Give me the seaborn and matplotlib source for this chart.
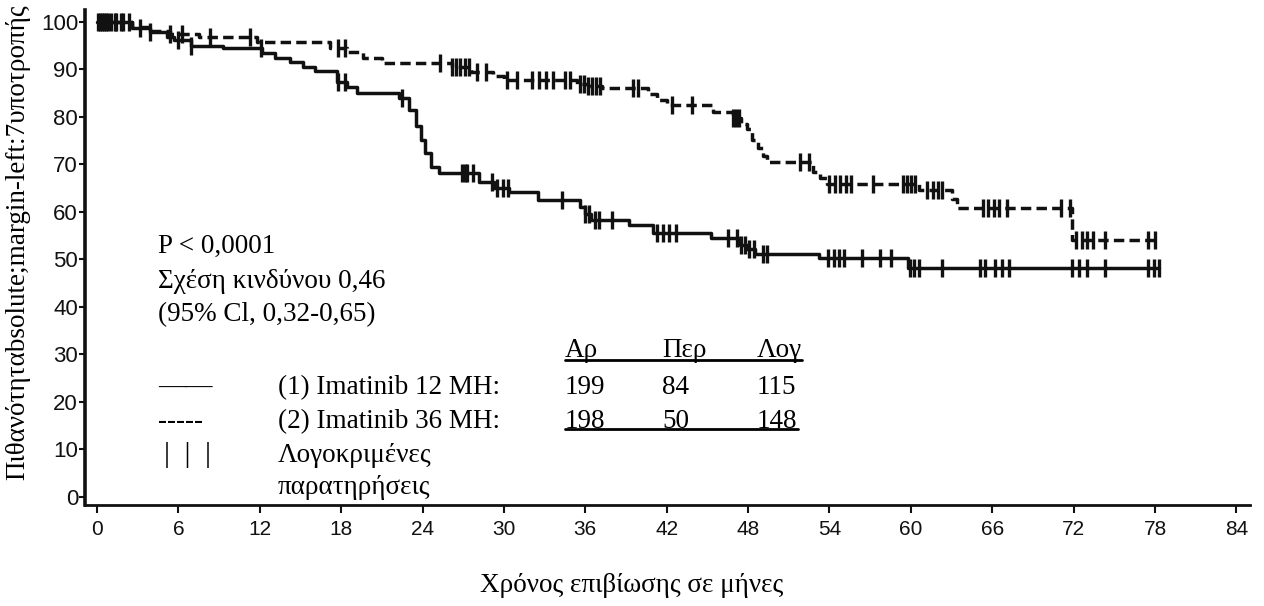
import numpy as np
import matplotlib
matplotlib.use("Agg")
import matplotlib.pyplot as plt
import seaborn as sns

# Group 1: Imatinib 12 months (solid) - step times and survival (%)
time_12 = [0, 2.6, 3.9, 5.2, 5.7, 6.9, 9.3, 12.2, 13.1, 14.2, 15.2, 16.1, 17.7, 18.4,
           19.2, 22.3, 23.0, 23.5, 23.9, 24.2, 24.6, 25.2, 28.2, 29.3, 30.4, 32.5,
           35.6, 36.0, 36.4, 39.2, 41.0, 45.3, 47.4, 47.9, 48.5, 53.2, 59.8, 78.3]
surv_12 = [100, 98.7, 97.9, 96.8, 96.2, 95.0, 94.5, 93.5, 92.4, 91.6, 90.5, 89.6, 87.4, 86.3,
           85.0, 84.0, 81.5, 78.0, 75.2, 72.4, 69.5, 68.1, 66.2, 65.0, 64.2, 62.5,
           61.0, 59.5, 58.2, 57.2, 55.6, 54.5, 53.0, 52.2, 51.2, 50.4, 48.2, 48.2]
cens_12 = [0.2, 0.5, 0.8, 1.3, 1.9, 3.2, 3.9, 6.0, 6.9, 12.1, 17.8, 18.3, 22.5,
           26.9, 27.1, 27.3, 27.7, 29.1, 29.5, 29.9, 30.3, 34.3, 36.0, 36.3, 36.7, 37.0,
           38.0, 41.3, 41.7, 42.2, 42.7, 46.5, 47.2, 47.5, 47.8, 48.1, 48.4, 49.1, 49.4,
           53.9, 54.3, 54.7, 55.1, 56.4, 57.7, 58.5, 59.9, 60.2, 60.6, 62.3, 65.1, 65.5,
           66.2, 66.7, 67.2, 71.9, 72.4, 73.0, 74.3, 77.5, 77.9, 78.3]

# Group 2: Imatinib 36 months (dashed)
time_36 = [0, 2.6, 3.9, 5.4, 7.5, 11.8, 17.2, 18.4, 19.6, 21.0, 26.2, 27.6, 29.2, 30.0,
           35.4, 36.2, 37.2, 40.6, 41.3, 42.0, 45.4, 46.9, 47.5, 47.9, 48.3, 48.7, 49.1,
           49.4, 52.8, 53.3, 53.8, 60.6, 63.0, 63.4, 71.9, 78.0]
surv_36 = [100, 98.9, 98.0, 97.4, 96.8, 95.8, 94.5, 93.6, 92.3, 91.4, 90.4, 89.4, 88.6, 87.8,
           87.0, 86.6, 86.1, 84.8, 83.6, 82.6, 81.0, 79.8, 78.6, 77.4, 75.2, 73.5, 71.8,
           70.5, 68.5, 67.2, 65.8, 64.6, 62.8, 60.8, 54.0, 54.0]
cens_36 = [0.1, 0.4, 0.7, 1.0, 1.4, 1.8, 2.4, 5.4, 6.3, 8.3, 11.3, 17.8, 18.3, 25.3, 26.2,
           26.5, 26.8, 27.1, 27.4, 28.0, 28.7, 30.2, 31.0, 32.1, 32.6, 33.1, 33.6, 34.5,
           34.9, 35.6, 35.9, 36.2, 36.5, 36.8, 37.1, 39.5, 39.9, 42.4, 43.9, 46.9, 47.1,
           47.3, 51.8, 52.5, 54.0, 54.4, 54.8, 55.2, 55.6, 57.2, 59.4, 59.7, 60.0, 60.3,
           61.2, 61.6, 62.0, 62.3, 65.3, 65.7, 66.1, 66.5, 67.1, 71.1, 71.7, 72.2, 72.6,
           73.0, 73.4, 74.3, 77.5, 78.0]

x_ticks = list(range(0, 85, 6))
y_ticks = list(range(0, 101, 10))

table_cols = ["Αρ", "Περ", "Λογ"]
row_12 = ["199", "84", "115"]
row_36 = ["198", "50", "148"]


def step_value(times, surv, t):
    idx = np.searchsorted(times, t, side="right") - 1
    return np.asarray(surv)[idx]


sns.set_style("ticks")
plt.rcParams["font.family"] = ["Liberation Sans", "DejaVu Sans"]

W, H = 1264, 606
fig = plt.figure(figsize=(W / 100, H / 100), dpi=100)
ax = fig.add_axes([85 / W, 1 - 505 / H, (1250 - 85) / W, (505 - 10) / H])

ink = "#111111"
sns.lineplot(x=time_12, y=surv_12, drawstyle="steps-post", color=ink,
             linewidth=2.5, estimator=None, ax=ax)
sns.lineplot(x=time_36, y=surv_36, drawstyle="steps-post", color=ink,
             linewidth=2.5, linestyle=(0, (3.0, 1.5)), estimator=None, ax=ax)

# censored observations
sns.scatterplot(x=cens_12, y=step_value(time_12, surv_12, cens_12), marker="|",
                s=180, color=ink, linewidth=2.4, ax=ax, legend=False)
sns.scatterplot(x=cens_36, y=step_value(time_36, surv_36, cens_36), marker="|",
                s=180, color=ink, linewidth=2.4, ax=ax, legend=False)

ax.set_xlim(-0.88, 85)
ax.set_ylim(-1.7, 102.5)
ax.set_xticks(x_ticks)
ax.set_yticks(y_ticks)
ax.tick_params(axis="x", length=6, width=1.5, pad=5, labelsize=15, colors=ink)
ax.tick_params(axis="y", length=4, width=1.5, pad=1, labelsize=16, colors=ink)
sns.despine(ax=ax)
ax.spines["left"].set_linewidth(2.6)
ax.spines["bottom"].set_linewidth(2.0)
ax.spines["left"].set_color(ink)
ax.spines["bottom"].set_color(ink)
ax.set_xlabel("")
ax.set_ylabel("")

serif = dict(family="Liberation Serif", fontsize=19.5, color="black", va="baseline")


def ftext(x, y, s, **kw):
    opts = dict(serif)
    opts.update(kw)
    fig.text(x / W, 1 - y / H, s, **opts)


ftext(18, 242, "Πιθανότηταbsolute;margin-left:7υποτροπής", rotation=90,
      va="center", ha="center")
ftext(632, 585, "Χρόνος επιβίωσης σε μήνες", va="center", ha="center")

ftext(158, 253, "P < 0,0001")
ftext(158, 288, "Σχέση κινδύνου 0,46")
ftext(158, 321, "(95% Cl, 0,32-0,65)")

ftext(158, 394, "——")
ftext(158, 428, "-----")
ftext(164, 462, "|  |  |", fontsize=21)
ftext(278, 394, "(1) Imatinib 12 MH:")
ftext(278, 428, "(2) Imatinib 36 MH:")
ftext(278, 462, "Λογοκριμένες")
ftext(278, 494, "παρατηρήσεις")

col_x = [565, 662, 757]
for cx, head, a, b in zip(col_x, table_cols, row_12, row_36):
    ftext(cx, 357, head)
    ftext(cx, 394, a)
    ftext(cx, 428, b)

for y, x1 in [(360, 802), (429, 798)]:
    fig.add_artist(plt.Line2D([565 / W, x1 / W], [1 - y / H, 1 - y / H],
                              color="black", linewidth=2.0, transform=fig.transFigure))

fig.savefig("out.png", dpi=100)
